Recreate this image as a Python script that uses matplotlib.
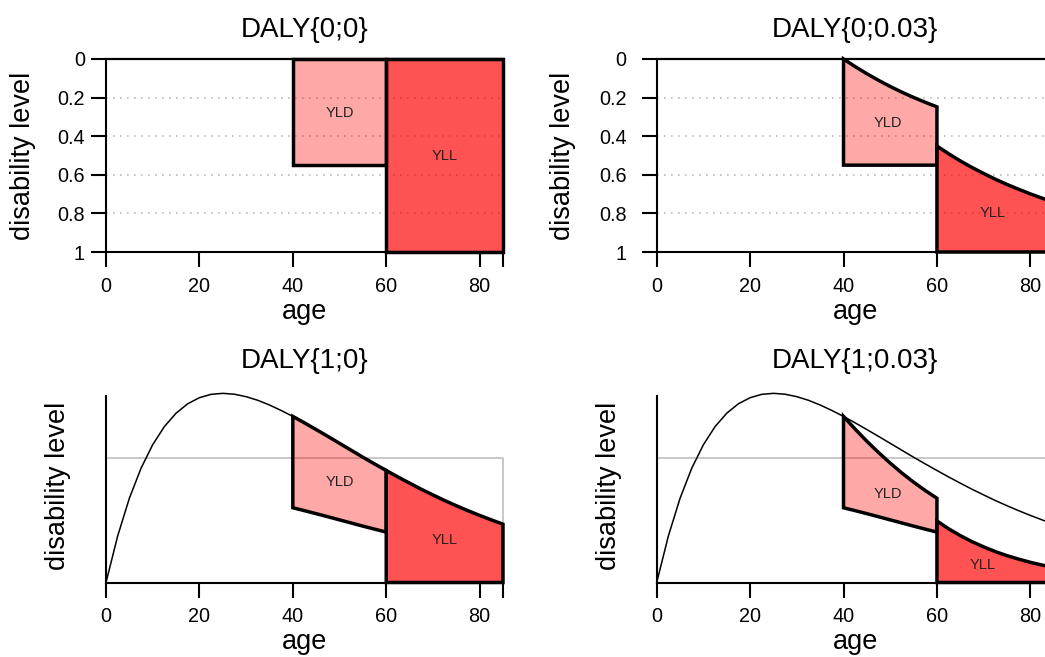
import numpy as np
import matplotlib
matplotlib.use("Agg")
import matplotlib.pyplot as plt

plt.rcParams['font.family'] = ['Liberation Sans', 'DejaVu Sans']

# age grid (years) and values
ages = np.array([0, 2.5, 5, 7.5, 10, 12.5, 15, 17.5, 20, 22.5, 25, 27.5, 30,
                 32.5, 35, 37.5, 40, 42.5, 45, 47.5, 50, 52.5, 55, 57.5, 60,
                 62.5, 65, 67.5, 70, 72.5, 75, 77.5, 80, 82.5, 85])
age_weight = np.array([0.0, 0.375, 0.679, 0.921, 1.111, 1.257, 1.365, 1.441,
                       1.490, 1.517, 1.525, 1.518, 1.498, 1.469, 1.431, 1.387,
                       1.339, 1.287, 1.233, 1.178, 1.122, 1.066, 1.010, 0.956,
                       0.903, 0.851, 0.801, 0.752, 0.706, 0.661, 0.619, 0.579,
                       0.541, 0.505, 0.470])
# discount factor from onset (age 40) onwards
discount = np.array([1.0, 0.928, 0.861, 0.799, 0.741, 0.687, 0.638, 0.592,
                     0.549, 0.509, 0.472, 0.438, 0.407, 0.377, 0.350, 0.325,
                     0.301, 0.279, 0.259])

onset_age = 40
death_age = 60
life_expectancy = 85
disability_weight = 0.55

x_ticks = [0, 20, 40, 60, 80, 85]
x_tick_labels = ['0', '20', '40', '60', '80', '']
y_ticks = [0, 0.2, 0.4, 0.6, 0.8, 1]
y_tick_labels = ['0', '0.2', '0.4', '0.6', '0.8', '1']
grid_levels = [0.2, 0.4, 0.6, 0.8]

titles = ['DALY{0;0}', 'DALY{0;0.03}', 'DALY{1;0}', 'DALY{1;0.03}']
weighted = [False, False, True, True]
discounted = [False, True, False, True]
yld_text_pos = [(50, 0.28), (49.5, 0.33), (50, 0.81), (49.5, 0.71)]
yll_text_pos = [(72.5, 0.5), (72, 0.80), (72.5, 0.34), (69.7, 0.14)]

YLD_COLOR = (1, 0, 0, 0.34)
YLL_COLOR = (1, 0, 0, 0.68)

W, H = 1045, 657
fig = plt.figure(figsize=(W / 100, H / 100), dpi=100)

col_left = [106 / W, 656.7 / W]
row_bottom = [1 - 252 / H, 1 - 582.5 / H]
ax_w = 397 / W
ax_h = 193 / H
tick_pad = [4.3, 10.8]
ylabel_x = [[-83 / 397, -93.7 / 397], [-48 / 397, -48 / 397]]


def band(ax, x, lo, hi, color):
    px = np.concatenate([x, x[::-1]])
    py = np.concatenate([hi, lo[::-1]])
    ax.fill(px, py, facecolor=color, edgecolor='black', linewidth=2.5,
            joinstyle='miter', zorder=3, clip_on=False)


for i in range(4):
    row, col = divmod(i, 2)
    ax = fig.add_axes([col_left[col], row_bottom[row], ax_w, ax_h])
    ax.set_facecolor('none')

    w = age_weight if weighted[i] else np.ones_like(ages, dtype=float)
    sel = ages >= onset_age
    xa = ages[sel]
    wd = w[sel]
    d = discount if discounted[i] else np.ones_like(xa, dtype=float)

    yld = xa <= death_age
    yll = xa >= death_age
    yld_lo = wd * (1 - disability_weight)
    yld_hi = yld_lo + disability_weight * wd * d
    yll_lo = np.zeros_like(xa, dtype=float)
    yll_hi = wd * d

    if weighted[i]:
        tr = lambda v: v
    else:
        tr = lambda v: 1 - v

    band(ax, xa[yld], tr(yld_lo[yld]), tr(yld_hi[yld]), YLD_COLOR)
    band(ax, xa[yll], tr(yll_lo[yll]), tr(yll_hi[yll]), YLL_COLOR)

    ax.set_xlim(0, life_expectancy)
    ax.set_xticks(x_ticks)
    ax.set_xticklabels(x_tick_labels)
    for s in ['top', 'right']:
        ax.spines[s].set_visible(False)
    for s in ['left', 'bottom']:
        ax.spines[s].set_linewidth(1.5)
    ax.tick_params(direction='out', length=10.8, width=1.5, labelsize=14.3)
    ax.tick_params(axis='x', pad=7)

    if not weighted[i]:
        ax.set_ylim(1, 0)
        ax.set_yticks(y_ticks)
        ax.set_yticklabels(y_tick_labels)
        ax.tick_params(axis='y', pad=tick_pad[col])
        for g in grid_levels:
            ax.plot([0.0, life_expectancy], [g, g], color='#bbbbbb', lw=1.2,
                    dashes=(1, 3.2), zorder=1)
        ax.plot(ages, tr(w), color='black', lw=1.6, zorder=4, clip_on=False)
    else:
        ax.set_ylim(0, 1.556)
        ax.set_yticks([])
        ax.spines['left'].set_bounds(0, 1.5)
        ax.plot([0, life_expectancy, life_expectancy], [1, 1, 0],
                color='#c4c4c4', lw=1.3, zorder=1, clip_on=False)
        ax.plot(ages, w, color='black', lw=1.1, zorder=4, clip_on=False)

    ax.text(*yld_text_pos[i], 'YLD', fontsize=10.5, color='#222222',
            ha='center', va='center', zorder=5)
    ax.text(*yll_text_pos[i], 'YLL', fontsize=10.5, color='#222222',
            ha='center', va='center', zorder=5)

    ax.text(0.5, 1.15, titles[i], transform=ax.transAxes, fontsize=20,
            ha='center', va='center')
    ax.set_xlabel('age', fontsize=19.5, va='center')
    ax.xaxis.set_label_coords(0.5, -0.31)
    ax.set_ylabel('disability level', fontsize=19.5, va='center')
    ax.yaxis.set_label_coords(ylabel_x[row][col], 0.5)

fig.savefig('out.png', dpi=100)
